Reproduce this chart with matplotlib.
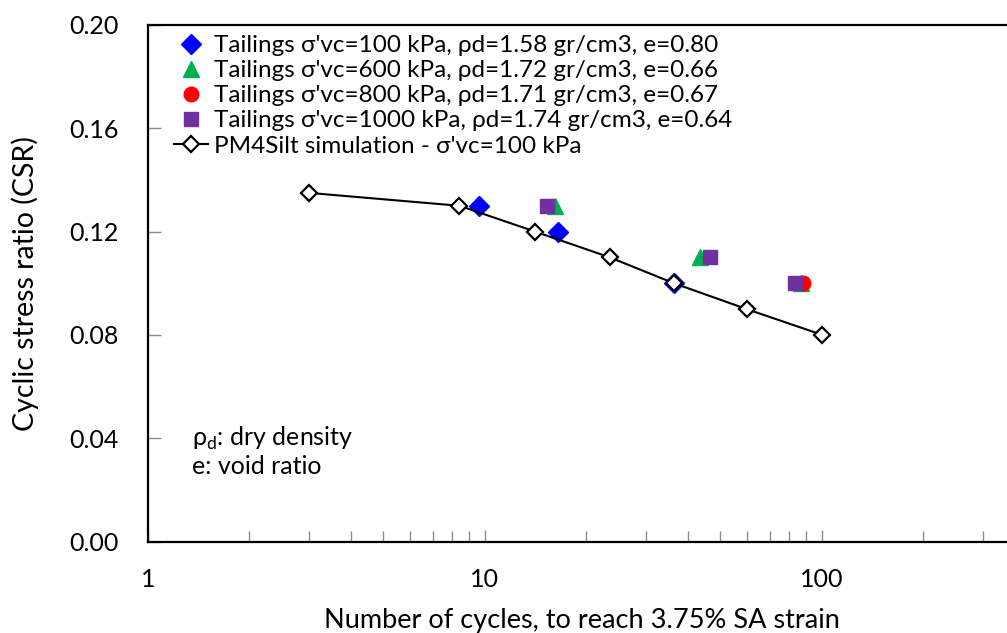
import matplotlib
matplotlib.use("Agg")
import matplotlib.pyplot as plt

plt.rcParams["font.family"] = ["Lato", "DejaVu Sans"]
plt.rcParams["mathtext.fontset"] = "custom"
plt.rcParams["mathtext.rm"] = "Lato"

# ── data ──────────────────────────────────────────────────────────────────────
n100 = [9.6, 16.5, 36.4]
csr100 = [0.13, 0.12, 0.10]
n600 = [16.2, 43.5, 86.5]
csr600 = [0.13, 0.11, 0.10]
n800 = [88.0]
csr800 = [0.10]
n1000 = [15.3, 46.5, 83.5]
csr1000 = [0.13, 0.11, 0.10]
n_sim = [3.0, 8.4, 14.1, 23.5, 36.4, 59.8, 100.3]
csr_sim = [0.135, 0.13, 0.12, 0.11, 0.10, 0.09, 0.08]

labels = [
    "Tailings σ'vc=100 kPa, ρd=1.58 gr/cm3, e=0.80",
    "Tailings σ'vc=600 kPa, ρd=1.72 gr/cm3, e=0.66",
    "Tailings σ'vc=800 kPa, ρd=1.71 gr/cm3, e=0.67",
    "Tailings σ'vc=1000 kPa, ρd=1.74 gr/cm3, e=0.64",
    "PM4Silt simulation - σ'vc=100 kPa",
]

W, H = 1007, 633
fig = plt.figure(figsize=(W / 100, H / 100), dpi=100)
# axes runs past the right edge of the picture, as in the reference
ax = fig.add_axes([148 / W, 1 - 541.5 / H, (1016 - 148) / W, (541.5 - 25) / H])

ax.plot(n_sim, csr_sim, color="black", lw=1.5, marker="D", ms=8,
        mfc="white", mec="black", mew=1.6, zorder=3, label=labels[4])
ax.plot(n100, csr100, ls="none", marker="D", ms=10, color="#0000FF", zorder=2, label=labels[0])
ax.plot(n600, csr600, ls="none", marker="^", ms=11.5, color="#00B050", zorder=2, label=labels[1])
ax.plot(n800, csr800, ls="none", marker="o", ms=10.5, color="#FF0000", zorder=2, label=labels[2])
ax.plot(n1000, csr1000, ls="none", marker="s", ms=10, color="#7030A0", zorder=2, label=labels[3])

ax.set_xscale("log")
ax.set_xlim(1, 377)
ax.set_ylim(0, 0.20)
ax.set_yticks([0, 0.04, 0.08, 0.12, 0.16, 0.20])
ax.set_yticklabels([f"{v:.2f}" for v in ax.get_yticks()])
ax.set_xticks([1, 10, 100])
ax.set_xticklabels(["1", "10", "100"])

ax.tick_params(which="both", direction="in", colors="#8c8c8c", labelcolor="black",
               labelsize=18, width=1)
ax.tick_params(which="major", length=9)
ax.tick_params(which="minor", length=8)
ax.tick_params(axis="y", pad=21)
ax.tick_params(axis="x", which="both", pad=19)
for s in ax.spines.values():
    s.set_linewidth(1.6)
    s.set_color("black")

ax.set_xlabel("Number of cycles, to reach 3.75% SA strain", fontsize=19.5, labelpad=12)
ax.set_ylabel("Cyclic stress ratio (CSR)", fontsize=20.5, labelpad=22)

handles, labs = ax.get_legend_handles_labels()
order = [1, 2, 3, 4, 0]
ax.legend([handles[i] for i in order], [labs[i] for i in order],
          loc="upper left", bbox_to_anchor=(174 / W, 1 - 35 / H),
          bbox_transform=fig.transFigure, frameon=False, fontsize=17.5,
          handlelength=1.4, handletextpad=0.25, labelspacing=0.17,
          borderpad=0, borderaxespad=0)

ax.text(192 / W, 1 - 438 / H, r"ρ$_\mathrm{d}$: dry density", transform=fig.transFigure,
        fontsize=18, va="center", ha="left")
ax.text(192 / W, 1 - 467 / H, "e: void ratio", transform=fig.transFigure,
        fontsize=18, va="center", ha="left")

fig.savefig("out.png", dpi=100)
